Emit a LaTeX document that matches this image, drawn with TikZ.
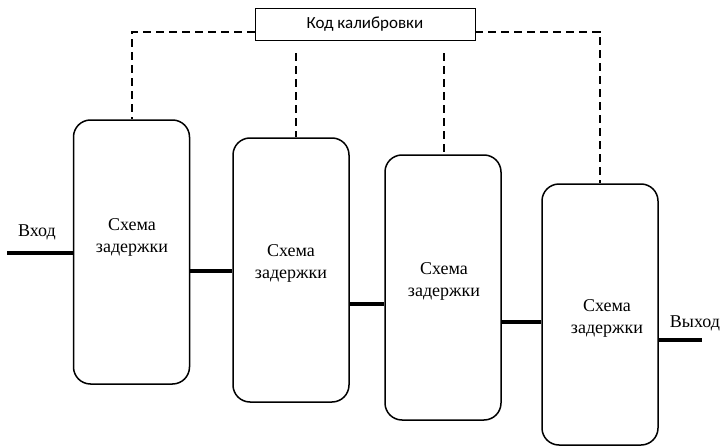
\documentclass[tikz,border=0pt]{standalone}
\usepackage{fontspec}
\setmainfont{Liberation Serif}
\newfontfamily\calib{Carlito}
\begin{document}
\begin{tikzpicture}[x=1pt,y=-1pt,
  blk/.style={draw,line width=1.5pt,rounded corners=17pt,minimum width=116pt,inner sep=0pt},
  wire/.style={line width=4pt},
  ctl/.style={line width=1.5pt,dash pattern=on 8pt off 5pt},
  txt/.style={font=\fontsize{18}{22}\selectfont,align=center,inner sep=0pt},
  lbl/.style={draw,line width=0.8pt,minimum width=220pt,minimum height=32pt,inner sep=0pt,font=\calib\fontsize{17}{20}\selectfont,fill=white}]
\useasboundingbox (0,0) rectangle (721,447);
% boxes
\node[blk,minimum height=264pt] (b1) at (131.5,252) {};
\node[blk,minimum height=264pt] (b2) at (291,270) {};
\node[blk,minimum height=265pt] (b3) at (443,287.5) {};
\node[blk,minimum height=261pt] (b4) at (600,314.5) {};
% texts
\node[txt] (t1) at (132,237) {Схема\\задержки};
\node[txt] (t2) at (291,263) {Схема\\задержки};
\node[txt] (t3) at (444,281) {Схема\\задержки};
\node[txt] (t4) at (607,318) {Схема\\задержки};
\node[txt] (in) at (37,232) {Вход};
\node[txt] (out) at (695,323) {Выход};
% calibration box
\node[lbl] (cal) at (365,24.5) {Код калибровки};
% wires
\coordinate (yin) at (0,253);
\coordinate (y12) at (0,271);
\coordinate (y23) at (0,304);
\coordinate (y34) at (0,322);
\coordinate (yout) at (0,340);
\coordinate (win) at (7,253);
\coordinate (wout) at (702,340);
\draw[wire] (win) -- (b1.west |- yin);
\draw[wire] (b1.east |- y12) -- (b2.west |- y12);
\draw[wire] (b2.east |- y23) -- (b3.west |- y23);
\draw[wire] (b3.east |- y34) -- (b4.west |- y34);
\draw[wire] (b4.east |- yout) -- (wout);
% control lines
\coordinate (cl) at (132,32);
\coordinate (cr) at (600,32);
\coordinate (c2) at (296,53);
\coordinate (c3) at (444,53);
\draw[ctl] (cal.west |- cl) -- (cl) -- (cl |- b1.north);
\draw[ctl] (cal.east |- cr) -- (cr) -- (cr |- b4.north);
\draw[ctl] (c2) -- (c2 |- b2.north);
\draw[ctl] (c3) -- (c3 |- b3.north);
\end{tikzpicture}
\end{document}
